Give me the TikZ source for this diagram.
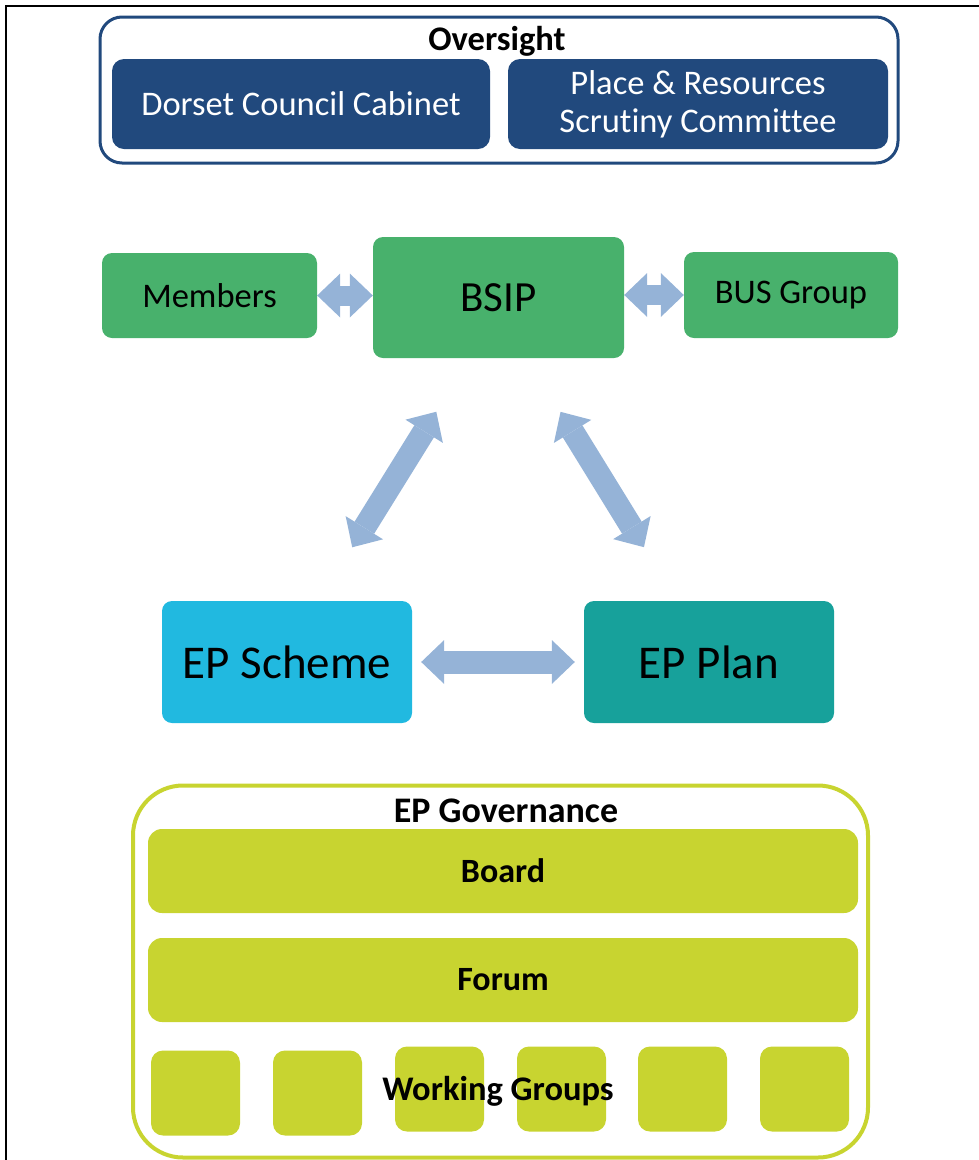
\documentclass[tikz,border=0pt]{standalone}
\usepackage{fontspec}
\setmainfont{Carlito}[Ligatures=CommonOff]
\usetikzlibrary{arrows.meta}

\definecolor{ovblue}{RGB}{33,73,125}
\definecolor{bsipgreen}{RGB}{72,177,108}
\definecolor{linkblue}{RGB}{149,179,215}
\definecolor{schemecyan}{RGB}{33,185,224}
\definecolor{planteal}{RGB}{23,161,155}
\definecolor{govolive}{RGB}{200,212,48}

\begin{document}
\begin{tikzpicture}[
    x=1pt, y=-1pt,
    every node/.style={font=\fontsize{34.5}{38}\selectfont, inner sep=0pt, align=center},
    ovbox/.style={fill=ovblue, rounded corners=12pt, minimum width=378pt, minimum height=90pt, text=white},
    bsipbox/.style={fill=bsipgreen, rounded corners=10pt},
    epbox/.style={rounded corners=10pt, minimum width=250pt, minimum height=122pt, font=\fontsize{47}{54}\selectfont},
    govbar/.style={fill=govolive, rounded corners=14pt, minimum width=710pt, minimum height=84pt, font=\fontsize{34}{40}\selectfont\bfseries},
    wgbox/.style={fill=govolive, rounded corners=12pt, minimum width=89pt, minimum height=85pt},
    title/.style={font=\fontsize{34.5}{40}\selectfont\bfseries},
    link/.style={draw=linkblue, line width=23pt,
        {Triangle[length=23pt,width=44pt,line width=0pt]}-{Triangle[length=23pt,width=44pt,line width=0pt]}},
    smalllink/.style={link, line width=20pt}
]
    \useasboundingbox (0,0) rectangle (979,1160);
    \draw[line width=2pt] (6,1160) -- (6,6) -- (979,6);

    % ---- Oversight ----
    \node[draw=ovblue, line width=3pt, rounded corners=22pt, minimum width=798pt, minimum height=146pt] (oversight) at (499,90) {};
    \node[title] (ovtitle) at (497,41) {Oversight};
    \node[ovbox] (cabinet) at (301,104) {Dorset Council Cabinet};
    \node[ovbox, minimum width=380pt] (scrutiny) at (698,104) {Place \& Resources\\Scrutiny Committee};

    % ---- BSIP ----
    \node[bsipbox, minimum width=251pt, minimum height=121pt, font=\fontsize{43}{50}\selectfont] (bsip) at (498.5,297.5) {BSIP};
    \node[bsipbox, minimum width=215pt, minimum height=85pt] (members) at (209.5,295.5) {Members};
    \node[bsipbox, minimum width=214pt, minimum height=86pt] (busgroup) at (791,295) {BUS Group};

    % ---- Enhanced Partnership ----
    \node[epbox, fill=schemecyan] (scheme) at (287,662) {EP Scheme};
    \node[epbox, fill=planteal] (plan) at (709,662) {EP Plan};

    % ---- EP Governance ----
    \node[draw=govolive, line width=4pt, rounded corners=50pt, minimum width=735pt, minimum height=372pt] (gov) at (500.5,971.5) {};
    \node[title, font=\fontsize{36}{40}\selectfont\bfseries] (govtitle) at (506,811) {EP Governance};
    \node[govbar] (board) at (503,871) {Board};
    \node[govbar] (forum) at (503,980) {Forum};
    \foreach \i/\x/\y in {1/195.5/1093, 2/317.5/1093, 3/439.5/1089, 4/561.5/1089, 5/682.5/1089, 6/804.5/1089}
        \node[wgbox] (wg\i) at (\x,\y) {};
    \node[title] (wglabel) at (498,1091) {Working Groups};

    % ---- Links ----
    \draw[smalllink] (members.east) -- (members.east -| bsip.west);
    \draw[smalllink] (bsip.east |- busgroup.west) -- (busgroup.west);
    \draw[link, shorten <=63pt, shorten >=63pt] ([xshift=32pt]scheme.north) -- ([xshift=-29pt]bsip.south);
    \draw[link, shorten <=63pt, shorten >=63pt] ([xshift=29pt]bsip.south) -- ([xshift=-32pt]plan.north);
    \draw[link, shorten <=9pt, shorten >=9pt] (scheme.east) -- (plan.west);

\end{tikzpicture}
\end{document}
